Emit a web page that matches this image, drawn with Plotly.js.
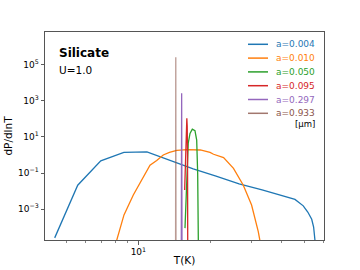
<!DOCTYPE html>
<html>
<head>
<meta charset="utf-8">
<script src="https://cdn.plot.ly/plotly-3.0.1.min.js"></script>
<style>html,body{margin:0;padding:0;background:#fff}#c{width:360px;height:270px}</style>
</head>
<body>
<div id="c"></div>
<script>
// Temperature grids (K) and dP/dlnT values
const T_a0004 = [4.45, 5.56, 6.95, 8.69, 10.86, 13.6, 17.0, 21.2, 26.5, 33.1, 41.4, 45.5, 49.3, 51.5, 53.5, 54.5, 55.2, 55.8];
const P_a0004 = [2.5e-5, 0.021, 0.47, 1.41, 1.51, 0.52, 0.17, 0.068, 0.025, 0.0115, 0.0051, 0.0034, 0.0015, 0.00068, 0.00027, 1e-4, 1.9e-5, 1e-6];

const T_a0010 = [8.0, 8.7, 9.52, 10.48, 11.19, 11.94, 12.72, 13.5, 14.5, 16.0, 18.2, 20.0, 20.7, 22.8, 25.1, 27.6, 29.9, 31.9, 32.5, 33.2];
const P_a0010 = [1e-5, 4.7e-4, 6.0e-3, 0.062, 0.275, 0.5, 1.0, 1.41, 1.82, 2.0, 1.9, 1.38, 1.1, 0.71, 0.18, 0.021, 1.66e-3, 5.5e-5, 1.8e-5, 3.2e-6];

const T_a0050 = [15.7, 15.97, 16.2, 16.48, 16.85, 17.29, 17.58, 17.75, 17.86, 17.9];
const P_a0050 = [8.7e-5, 0.095, 4.5, 15.8, 27, 22.4, 6.8, 0.095, 1.9e-5, 1e-6];

const T_a0095 = [15.65, 15.8, 15.92, 15.98, 16.04, 16.09, 16.12];
const P_a0095 = [0.0115, 6.3, 63, 110, 40, 1, 1e-5];

const T_a0297 = [15.14, 15.2, 15.26];
const P_a0297 = [1e-6, 2700, 1e-6];

const T_a0933 = [14.33, 14.36, 14.39];
const P_a0933 = [1e-6, 2.7e5, 1e-6];

const seriesNames = ["a=0.004", "a=0.010", "a=0.050", "a=0.095", "a=0.297", "a=0.933"];
const seriesColors = ["#1f77b4", "#ff7f0e", "#2ca02c", "#d62728", "#9467bd", "#8c564b"];
const seriesT = [T_a0004, T_a0010, T_a0050, T_a0095, T_a0297, T_a0933];
const seriesP = [P_a0004, P_a0010, P_a0050, P_a0095, P_a0297, P_a0933];

const yTickVals = [1e-3, 1e-1, 1e1, 1e3, 1e5];
const yTickText = ["10<sup>−3</sup>", "10<sup>−1</sup>", "10<sup>1</sup>", "10<sup>3</sup>", "10<sup>5</sup>"];
const xTickVals = [10];
const xTickText = ["10<sup>1</sup>"];
const xMinorVals = [5, 6, 7, 8, 9, 20, 30, 40, 50, 60];

const FF = 'DejaVu Sans, sans-serif';

const traces = seriesNames.map((n, i) => ({
  x: seriesT[i], y: seriesP[i], type: 'scatter', mode: 'lines',
  name: n, showlegend: false,
  line: {color: seriesColors[i], width: 1.3},
  opacity: i === 5 ? 0.6 : 1
}));

// Manual legend (matplotlib-like, upper right, 14 px rows)
const legTop = 44.3, legStep = 13.8, plotTop = 32, plotH = 208, plotL = 45, plotW = 279;
const py = v => 1 - (v - plotTop) / plotH;
const px = v => (v - plotL) / plotW;
const shapes = [];
const annotations = [
  {xref: 'paper', yref: 'paper', x: px(57), y: py(53), xanchor: 'left', yanchor: 'middle', showarrow: false,
   text: '<b>Silicate</b>', font: {family: FF, size: 12, color: '#000'}},
  {xref: 'paper', yref: 'paper', x: px(57), y: py(70), xanchor: 'left', yanchor: 'middle', showarrow: false,
   text: 'U=1.0', font: {family: FF, size: 10.5, color: '#000'}},
  {xref: 'paper', yref: 'paper', x: px(317), y: py(123.8), xanchor: 'right', yanchor: 'middle', showarrow: false,
   text: '[μm]', font: {family: FF, size: 8.5, color: '#000'}}
];
seriesNames.forEach((n, i) => {
  const yy = py(legTop + i * legStep);
  shapes.push({type: 'line', xref: 'paper', yref: 'paper', x0: px(248), x1: px(268), y0: yy, y1: yy,
               line: {color: seriesColors[i], width: 1.5}, opacity: i === 5 ? 0.8 : 1});
  annotations.push({xref: 'paper', yref: 'paper', x: px(274), y: yy, xanchor: 'left', yanchor: 'middle',
                    showarrow: false, text: n, font: {family: FF, size: 9, color: seriesColors[i]}});
});

const layout = {
  width: 360, height: 270,
  margin: {l: 45, r: 36, t: 32, b: 30},
  paper_bgcolor: '#fff', plot_bgcolor: '#fff',
  font: {family: FF, size: 9, color: '#000'},
  showlegend: false,
  xaxis: {
    type: 'log', range: [0.6076, 1.78],
    title: {text: 'T(K)', font: {family: FF, size: 10.5}, standoff: 0},
    tickmode: 'array', tickvals: xTickVals, ticktext: xTickText,
    tickfont: {family: FF, size: 9},
    ticks: 'outside', ticklen: 3.5, tickwidth: 0.8, tickcolor: '#333',
    minor: {tickmode: 'array', tickvals: xMinorVals, ticks: 'outside', ticklen: 2, tickwidth: 0.6, tickcolor: '#333', showgrid: false},
    showgrid: false, zeroline: false,
    showline: true, linecolor: '#555', linewidth: 1, mirror: true
  },
  yaxis: {
    type: 'log', range: [-4.72, 6.83],
    title: {text: 'dP/dlnT', font: {family: FF, size: 10.5}, standoff: 3},
    tickmode: 'array', tickvals: yTickVals, ticktext: yTickText,
    tickfont: {family: FF, size: 9},
    ticks: 'outside', ticklen: 3.5, tickwidth: 0.8, tickcolor: '#333',
    showgrid: false, zeroline: false,
    showline: true, linecolor: '#555', linewidth: 1, mirror: true
  },
  shapes: shapes,
  annotations: annotations
};

Plotly.newPlot('c', traces, layout, {staticPlot: true, displayModeBar: false});
</script>
</body>
</html>
